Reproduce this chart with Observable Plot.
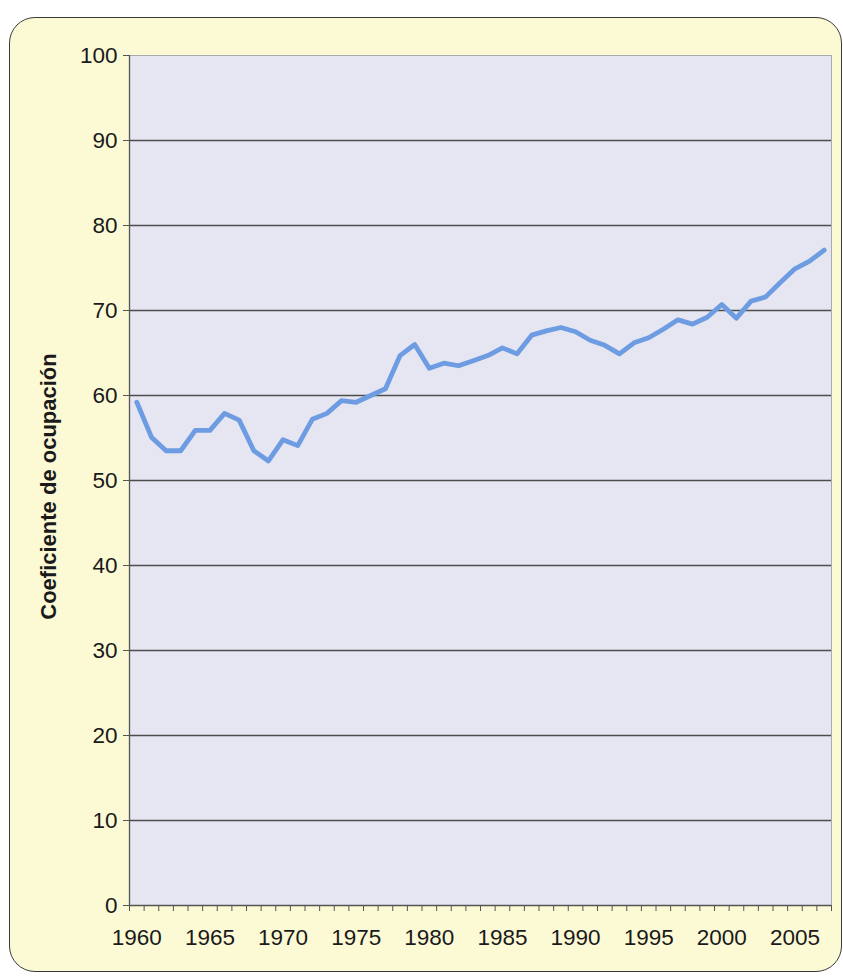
<!DOCTYPE html>
<html>
<head>
<meta charset="utf-8">
<script src="https://cdn.jsdelivr.net/npm/d3@7"></script>
<script src="https://cdn.jsdelivr.net/npm/@observablehq/plot@0.6"></script>
<style>
  html, body { margin: 0; padding: 0; background: #ffffff; }
  #page { position: relative; width: 843px; height: 978px; overflow: hidden; }
  #card {
    position: absolute; left: 9px; top: 17px; width: 833px; height: 955px;
    background: #fcf9d5; border: 1.5px solid #3a3a3a; border-radius: 26px;
    box-sizing: border-box;
  }
  #chart { position: absolute; left: 0; top: 0; }
  #chart svg [aria-label$="tick label"],
  #chart svg [aria-label$="tick label"] text { font-size: 22.5px !important; }
</style>
</head>
<body>
<div id="page">
  <div id="card"></div>
  <div id="chart"></div>
</div>
<script>
// Occupancy coefficient by year
const years = [
  1960, 1961, 1962, 1963, 1964, 1965, 1966, 1967, 1968, 1969,
  1970, 1971, 1972, 1973, 1974, 1975, 1976, 1977, 1978, 1979,
  1980, 1981, 1982, 1983, 1984, 1985, 1986, 1987, 1988, 1989,
  1990, 1991, 1992, 1993, 1994, 1995, 1996, 1997, 1998, 1999,
  2000, 2001, 2002, 2003, 2004, 2005, 2006, 2007
];
const values = [
  59.2, 55.1, 53.5, 53.5, 55.9, 55.9, 57.9, 57.1, 53.5, 52.3,
  54.8, 54.1, 57.2, 57.9, 59.4, 59.2, 60.0, 60.8, 64.7, 66.0,
  63.2, 63.8, 63.5, 64.1, 64.7, 65.6, 64.9, 67.1, 67.6, 68.0,
  67.5, 66.5, 65.9, 64.9, 66.2, 66.8, 67.8, 68.9, 68.4, 69.2,
  70.7, 69.1, 71.1, 71.6, 73.3, 74.9, 75.8, 77.1
];
const xLabels = [1960, 1965, 1970, 1975, 1980, 1985, 1990, 1995, 2000, 2005];
const yTicks = [0, 10, 20, 30, 40, 50, 60, 70, 80, 90, 100];
const gridLines = [10, 20, 30, 40, 50, 60, 70, 80, 90];
const yTitle = "Coeficiente de ocupación";

const data = years.map((year, i) => ({year, value: values[i]}));
// each year occupies one slot; minor ticks sit on the slot boundaries
const bounds = years.map(y => y - 0.5).concat([years[years.length - 1] + 0.5]);

const chart = Plot.plot({
  width: 843,
  height: 978,
  marginLeft: 129,
  marginRight: 12,
  marginTop: 55,
  marginBottom: 73,
  style: {background: "transparent", fontFamily: "'Liberation Sans', Arial, sans-serif", fontSize: "22px", color: "#1a1a1a"},
  x: {domain: [bounds[0], bounds[bounds.length - 1]]},
  y: {domain: [0, 100]},
  marks: [
    Plot.frame({fill: "#e5e6f1", stroke: "#a9a9b4", strokeWidth: 1}),
    Plot.ruleY(gridLines, {stroke: "#4d4d4d", strokeWidth: 1.3}),
    Plot.ruleX([bounds[0]], {stroke: "#555", strokeWidth: 1.3}),
    Plot.ruleY([0], {stroke: "#555", strokeWidth: 1.3}),
    Plot.axisX({ticks: bounds, tickSize: 6, tickFormat: () => "", stroke: "#555", label: null}),
    Plot.axisX({ticks: xLabels, tickSize: 0, tickPadding: 24, tickFormat: "d", fontSize: 22, label: null}),
    Plot.axisY({ticks: yTicks, tickSize: 6, tickPadding: 6, tickFormat: "d", fontSize: 22, stroke: "#555", label: null}),
    Plot.text([yTitle], {frameAnchor: "left", textAnchor: "middle", rotate: -90, dx: -81, dy: 6, fontWeight: "bold", fontSize: 22, fill: "#1a1a1a"}),
    Plot.line(data, {x: "year", y: "value", stroke: "#6d9ce2", strokeWidth: 4.8, strokeLinejoin: "round", strokeLinecap: "round"})
  ]
});
document.getElementById("chart").appendChild(chart);
</script>
</body>
</html>
